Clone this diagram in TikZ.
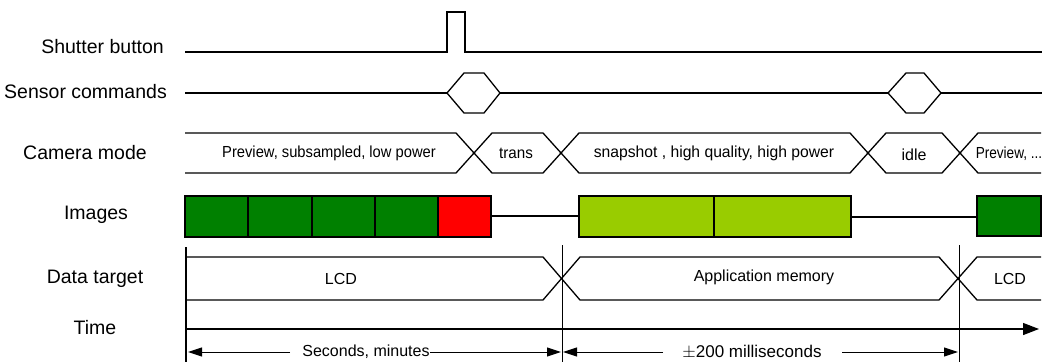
\documentclass[tikz,border=0pt]{standalone}
\usepackage{fontspec}
\usepackage{graphicx}
\setmainfont{Liberation Sans}
\usetikzlibrary{arrows.meta}
\definecolor{dkgreen}{HTML}{008000}
\definecolor{ltgreen}{HTML}{99CC00}
\definecolor{imgred}{HTML}{FF0000}
\tikzset{
  lbl/.style={font=\fontsize{19.5}{22}\selectfont, inner sep=0pt},
  txt/.style={font=\fontsize{16}{18}\selectfont, inner sep=0pt},
  sig/.style={line width=1.3pt, line join=miter},
  img/.style={line width=1.4pt, draw=black},
  dim/.style={line width=1pt, -{Triangle[length=14pt,width=9pt]}},
}
\begin{document}
\begin{tikzpicture}[x=1pt,y=-1pt]
\useasboundingbox[fill=white] (0,0) rectangle (1058,362);
% labels
\node[lbl, anchor=east] (lshut) at (164,47) {Shutter button};
\node[lbl, anchor=east] (lsens) at (167,92) {Sensor commands};
\node[lbl] (lcam) at (85,153) {Camera mode};
\node[lbl] (limg) at (96,215) {Images};
\node[lbl] (ldata) at (95,279) {Data target};
\node[lbl] (ltime) at (95,328) {Time};
% shutter
\draw[sig] (185,52) -- (447,52) -- (447,12) -- (465,12) -- (465,52) -- (1042,52);
% sensor commands
\draw[sig] (185,93) -- (447,93);
\draw[sig] (447,93) -- (464,73) -- (484,73) -- (500,93) -- (484,113) -- (464,113) -- cycle;
\draw[sig] (500,93) -- (888,93);
\draw[sig] (888,93) -- (906,73) -- (924,73) -- (941,93) -- (924,113) -- (906,113) -- cycle;
\draw[sig] (941,93) -- (1042,93);
% camera mode
\draw[sig] (185,133) -- (456,133) -- (492,173) -- (543,173) -- (579,133) -- (850,133) -- (886,173) -- (942,173) -- (978,133) -- (1041,133);
\draw[sig] (185,173) -- (456,173) -- (492,133) -- (543,133) -- (579,173) -- (850,173) -- (886,133) -- (942,133) -- (978,173) -- (1041,173);
\node[txt] (m1) at (329,153) {\scalebox{0.92}[1]{Preview, subsampled, low power}};
\node[txt] (m2) at (516,153) {\scalebox{0.95}[1]{trans}};
\node[txt] (m3) at (714,153) {\scalebox{0.98}[1]{snapshot , high quality, high power}};
\node[txt] (m4) at (914,155) {idle};
\node[txt] (m5) at (1009,154) {\scalebox{0.85}[1]{Preview, ...}};
% images
\draw[img, fill=dkgreen] (185,196) rectangle (248,237);
\draw[img, fill=dkgreen] (248,196) rectangle (312,237);
\draw[img, fill=dkgreen] (312,196) rectangle (375,237);
\draw[img, fill=dkgreen] (375,196) rectangle (438,237);
\draw[img, fill=imgred] (438,196) rectangle (491,237);
\draw[line width=1.2pt] (491,216) -- (579,216);
\draw[img, fill=ltgreen] (579,196) rectangle (714,237);
\draw[img, fill=ltgreen] (714,196) rectangle (851,237);
\draw[line width=1.2pt] (851,217) -- (977,217);
\draw[img, fill=dkgreen] (977,196) rectangle (1041,236);
% data target
\draw[sig] (186,257) -- (543,257) -- (580,300) -- (939,300) -- (977,257) -- (1041,257);
\draw[sig] (186,300) -- (543,300) -- (580,257) -- (939,257) -- (977,300) -- (1041,300);
\node[txt] (d1) at (341,279) {LCD};
\node[txt] (d2) at (764,277) {Application memory};
\node[txt] (d3) at (1010,279) {LCD};
% verticals
\draw[line width=2.8pt] (186,247) -- (186,362);
\draw[line width=1pt] (562,245) -- (562,362);
\draw[line width=1pt] (959,245) -- (959,362);
% time axis
\draw[line width=1.3pt, -{Triangle[length=16pt,width=12pt]}] (187,329) -- (1039,329);
% dimension arrows
\node[txt] (t1) at (366,352) {Seconds, minutes};
\node[txt, font=\fontsize{17}{18}\selectfont] (t2) at (752,352) {$\pm$200 milliseconds};
\draw[dim] (290,352) -- (188,352);
\draw[dim] (430,352) -- (561,352);
\draw[dim] (663,352) -- (563,352);
\draw[dim] (842,352) -- (958,352);
\end{tikzpicture}
\end{document}
